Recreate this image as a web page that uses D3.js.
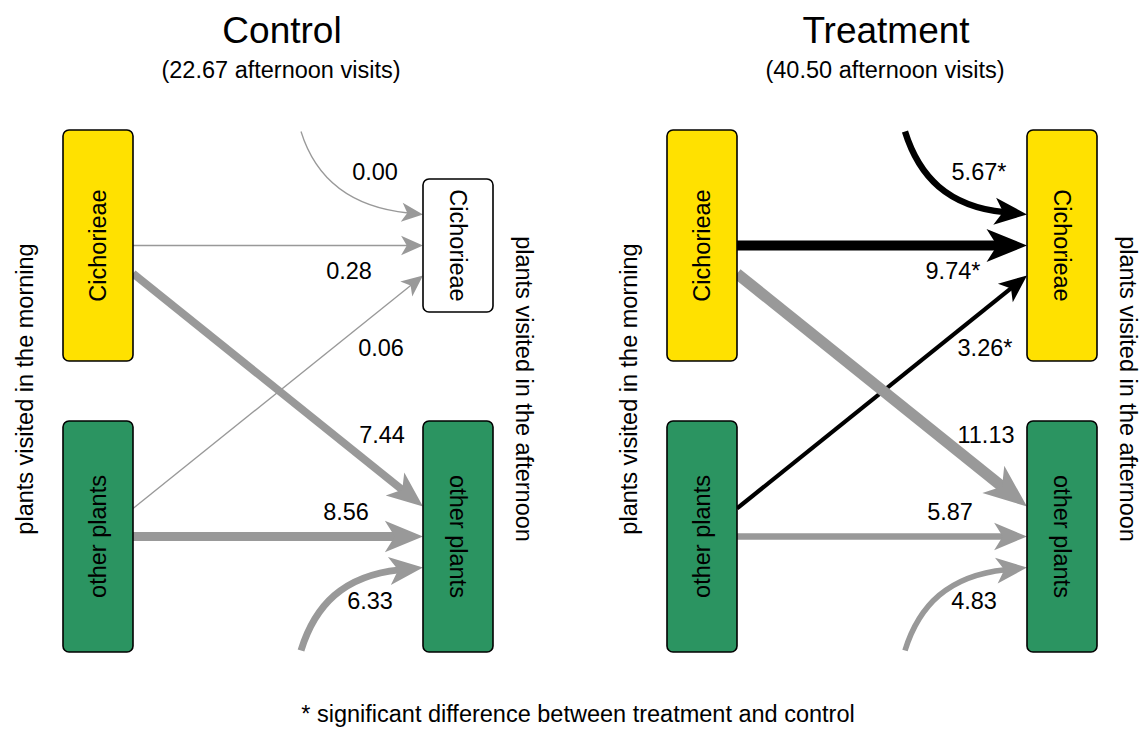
<!DOCTYPE html>
<html>
<head>
    <title>Pollinator visits: morning vs afternoon</title>
    <script src="https://cdnjs.cloudflare.com/ajax/libs/d3/7.8.5/d3.min.js"></script>
    <style>
        body { margin: 0; background: #fff; }
        text { font-family: "Liberation Sans", Arial, sans-serif; fill: #000; }
    </style>
</head>
<body>
    <div id="chart"></div>
    <script>
        // Data
        const panels = ["Control", "Treatment"];
        const afternoonVisits = ["22.67", "40.50"];
        const nodes = ["Cichorieae", "other plants"];
        const nodeColors = ["#ffe100", "#2b9461"];
        // flows: where visits come from (morning plant, or "new" visitor) and go to
        const flowFrom = ["new", "Cichorieae", "other plants", "Cichorieae", "other plants", "new"];
        const flowTo = ["Cichorieae", "Cichorieae", "Cichorieae", "other plants", "other plants", "other plants"];
        const controlFlows = [0.00, 0.28, 0.06, 7.44, 8.56, 6.33];
        const treatmentFlows = [5.67, 9.74, 3.26, 11.13, 5.87, 4.83];
        const treatmentSignificant = [true, true, true, false, false, false];
        const footnote = "* significant difference between treatment and control";

        const W = 1142, H = 729;
        const svg = d3.select("#chart").append("svg")
            .attr("width", W).attr("height", H);

        // Scales
        const panelX = d3.scalePoint().domain(panels).range([0, 604]);
        const colX = d3.scalePoint().domain(["morning", "afternoon"]).range([98, 458]);
        const rowY = d3.scaleBand().domain(nodes).range([130, 652]).paddingInner(0.206);
        const strokeW = d3.scaleLinear().domain([0, 12]).range([1.3, 12]);
        const boxW = 70;
        const fontSize = 23.5;

        // label offsets relative to arrow target (box edge, row centre)
        const labelOffsets = [[-48, -74], [-74, 25], [-42, 102], [-41, -101], [-77, -24], [-53, 65]];

        const cy = name => rowY(name) + rowY.bandwidth() / 2;

        // filled arrowhead with a notched back; returns how far the shaft should stop short of the tip
        function arrowHead(g, tip, dir, w, color) {
            const L = 18.5 + 2.2 * w, Hh = (17 + 1.6 * w) / 2;
            const nx = -dir[1], ny = dir[0];
            const back = [tip[0] - dir[0] * L, tip[1] - dir[1] * L];
            const notch = [tip[0] - dir[0] * L * 0.74, tip[1] - dir[1] * L * 0.74];
            const pts = [tip, [back[0] + nx * Hh, back[1] + ny * Hh], notch,
                         [back[0] - nx * Hh, back[1] - ny * Hh]];
            g.append("path")
                .attr("d", "M" + pts.map(p => p.join(",")).join("L") + "Z")
                .attr("fill", color);
            return L * 0.7;
        }

        panels.forEach((panel, pi) => {
            const g = svg.append("g").attr("transform", `translate(${panelX(panel)},0)`);
            const values = pi === 0 ? controlFlows : treatmentFlows;
            const sig = values.map((v, i) => pi === 1 && treatmentSignificant[i]);
            const leftEdge = colX("morning") + boxW / 2;
            const rightEdge = colX("afternoon") - boxW / 2;
            const midX = (colX("morning") + colX("afternoon")) / 2;

            // titles
            g.append("text").attr("x", midX + 4).attr("y", 43)
                .attr("text-anchor", "middle").style("font-size", "37px").text(panel);
            g.append("text").attr("x", midX + 3).attr("y", 78)
                .attr("text-anchor", "middle").style("font-size", fontSize + "px")
                .text(`(${afternoonVisits[pi]} afternoon visits)`);

            // side titles
            g.append("text")
                .attr("transform", `translate(25,389) rotate(-90)`)
                .attr("text-anchor", "middle").attr("dominant-baseline", "central")
                .style("font-size", fontSize + "px").text("plants visited in the morning");
            g.append("text")
                .attr("transform", `translate(524,389) rotate(90)`)
                .attr("text-anchor", "middle").attr("dominant-baseline", "central")
                .style("font-size", fontSize + "px").text("plants visited in the afternoon");

            // flows, non-significant first so black ones lie on top
            const order = d3.range(values.length).sort((a, b) => sig[a] - sig[b]);
            const arrows = g.append("g");
            order.forEach(i => {
                const w = strokeW(values[i]);
                const color = sig[i] ? "#000" : "#999";
                const ty = cy(flowTo[i]);
                let tip, start, c1 = null, c2 = null;
                if (flowFrom[i] === "new") {
                    // newly arriving visitors come in on a quarter-ellipse from above / below
                    const s = flowTo[i] === "Cichorieae" ? -1 : 1;
                    tip = [rightEdge, ty + s * 31];
                    start = [rightEdge - 122, tip[1] + s * 83];
                    c1 = [start[0] + 14, start[1] - s * 45];
                    c2 = [rightEdge - 68, tip[1] + s * 7];
                } else {
                    const fy = cy(flowFrom[i]);
                    const off = flowFrom[i] === flowTo[i] ? 0 : (fy < ty ? 1 : -1);
                    start = [leftEdge, fy + off * 28];
                    tip = [rightEdge, ty - off * 30];
                }
                const ref = c2 || start;
                const dx = tip[0] - ref[0], dy = tip[1] - ref[1], n = Math.hypot(dx, dy);
                const dir = [dx / n, dy / n];
                const cut = arrowHead(arrows, tip, dir, w, color);
                const end = [tip[0] - dir[0] * cut, tip[1] - dir[1] * cut];
                const p = d3.path();
                p.moveTo(start[0], start[1]);
                if (c2) {
                    p.bezierCurveTo(c1[0], c1[1], c2[0] - dir[0] * cut * 0.5, c2[1] - dir[1] * cut * 0.5, end[0], end[1]);
                } else {
                    p.lineTo(end[0], end[1]);
                }
                arrows.insert("path", ":first-child")
                    .attr("d", p.toString())
                    .attr("fill", "none")
                    .attr("stroke", color)
                    .attr("stroke-width", w);

                const lo = labelOffsets[i];
                g.append("text")
                    .attr("x", rightEdge + lo[0]).attr("y", ty + lo[1])
                    .attr("text-anchor", "middle").attr("dominant-baseline", "central")
                    .style("font-size", fontSize + "px")
                    .text(values[i].toFixed(2) + (sig[i] ? "*" : ""));
            });

            // boxes
            ["morning", "afternoon"].forEach(col => {
                nodes.forEach((node, ni) => {
                    const plain = pi === 0 && col === "afternoon" && node === "Cichorieae";
                    const h = plain ? 133 : rowY.bandwidth();
                    const x0 = colX(col) - boxW / 2;
                    const y0 = cy(node) - h / 2;
                    g.append("rect")
                        .attr("x", x0).attr("y", y0)
                        .attr("width", boxW).attr("height", h)
                        .attr("rx", 6)
                        .attr("fill", plain ? "#fff" : nodeColors[ni])
                        .attr("stroke", "#000").attr("stroke-width", 1.6);
                    g.append("text")
                        .attr("transform", `translate(${colX(col)},${cy(node)}) rotate(${col === "morning" ? -90 : 90})`)
                        .attr("text-anchor", "middle").attr("dominant-baseline", "central")
                        .style("font-size", fontSize + "px").text(node);
                });
            });
        });

        svg.append("text").attr("x", 578).attr("y", 721.5)
            .attr("text-anchor", "middle").style("font-size", fontSize + "px")
            .text(footnote);
    </script>
</body>
</html>
